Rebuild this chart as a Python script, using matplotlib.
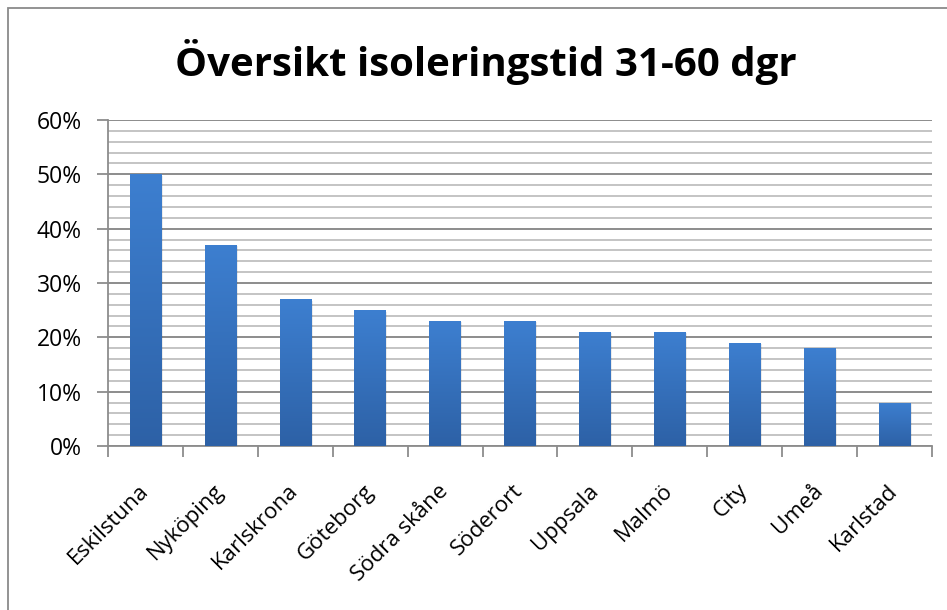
import matplotlib
matplotlib.use("Agg")
import matplotlib.pyplot as plt
import numpy as np
from matplotlib.colors import LinearSegmentedColormap
from matplotlib.patches import Rectangle
from matplotlib.ticker import MultipleLocator, FuncFormatter

categories = ["Eskilstuna", "Nyköping", "Karlskrona", "Göteborg", "Södra skåne",
              "Söderort", "Uppsala", "Malmö", "City", "Umeå", "Karlstad"]
values = [50, 37, 27, 25, 23, 23, 21, 21, 19, 18, 8]
title = "Översikt isoleringstid 31-60 dgr"

plt.rcParams['font.family'] = ['Open Sans', 'DejaVu Sans']

fig = plt.figure(figsize=(9.47, 6.10), dpi=100)
ax = fig.add_axes([108/947, 1-446/610, (932-108)/947, (446-120)/610])

# chart border
fig.patches.append(Rectangle((8/947, -0.05), 1.1, 1-8/610+0.05, transform=fig.transFigure,
                             fill=False, edgecolor="#8a8a8a", linewidth=1.3, zorder=0))

cmap = LinearSegmentedColormap.from_list("bar", ["#2d61a6", "#3d7fd0"])
grad = np.linspace(0, 1, 256).reshape(-1, 1)
width = 0.42
x = np.arange(len(categories))
bars = ax.bar(x, values, width=width, color="none", edgecolor="none", zorder=3)
for b in bars:
    x0, y0 = b.get_x(), b.get_y()
    w, h = b.get_width(), b.get_height()
    # soft shadow
    ax.add_patch(Rectangle((x0 + 0.02, y0 - 0.25), w, h, facecolor="#000000", alpha=0.08,
                           edgecolor="none", zorder=2.5))
    im = ax.imshow(grad, extent=[x0, x0 + w, y0, y0 + h], origin="lower", cmap=cmap,
                   aspect="auto", zorder=3, interpolation="bicubic")
    im.set_clip_path(b)

ax.set_xlim(-0.5, len(categories) - 0.5)
ax.set_ylim(0, 60)

ax.yaxis.set_major_locator(MultipleLocator(10))
ax.yaxis.set_minor_locator(MultipleLocator(2))
ax.yaxis.set_major_formatter(FuncFormatter(lambda v, p: f"{int(v)}%"))
ax.grid(which="major", axis="y", color="#8c8c8c", linewidth=1.4, zorder=1)
ax.grid(which="minor", axis="y", color="#c4c4c4", linewidth=1.4, zorder=1)
ax.set_axisbelow(True)

ax.set_xticks(x)
ax.set_xticklabels(categories, rotation=45, ha="right", va="center", rotation_mode="anchor")
ax.set_xticks(np.arange(-0.5, len(categories)), minor=True)
ax.tick_params(axis="x", which="major", length=0, pad=30, labelsize=16, colors="black")
ax.tick_params(axis="x", which="minor", length=8, width=1.3, color="#8c8c8c")
ax.tick_params(axis="y", which="major", length=8, width=1.3, color="#8c8c8c", labelsize=16.5, pad=11)
ax.tick_params(axis="y", which="minor", length=0)

for s in ["top", "right"]:
    ax.spines[s].set_visible(False)
for s in ["left", "bottom"]:
    ax.spines[s].set_color("#8c8c8c")
    ax.spines[s].set_linewidth(1.3)

fig.text(486/947, 1-62/610, title, ha="center", va="center", fontsize=29, fontweight="bold")

fig.savefig("out.png", dpi=100)
